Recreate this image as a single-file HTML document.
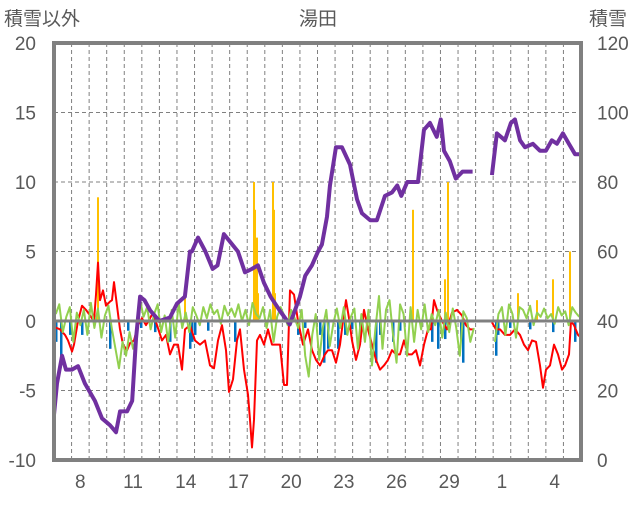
<!DOCTYPE html>
<html><head><meta charset="utf-8"><style>
body{margin:0;background:#fff;}
svg text{font-family:"Liberation Sans","Noto Sans CJK JP",sans-serif;fill:#595959;}
</style></head><body>
<svg id="c" width="636" height="501" xmlns="http://www.w3.org/2000/svg">
<text x="4" y="25" font-size="19">積雪以外</text>
<text x="318" y="25" font-size="19" text-anchor="middle">湯田</text>
<text x="589" y="25" font-size="19">積雪</text>
<g id="grid"></g>
<g id="marks"></g>
<g id="axes"></g>
</svg>
<script>
const dayLabels=["8","11","14","17","20","23","26","29","1","4"];
const dayLabelIdx=[1,4,7,10,13,16,19,22,25,28];
const leftTicks=[20,15,10,5,0,-5,-10];
const rightTicks=[120,100,80,60,40,20,0];
// snow depth (right axis), time in days from start
const snowT=[0,0.17,0.46,0.68,1.02,1.37,1.76,2.33,2.73,3.19,3.53,3.76,4.16,4.45,4.67,4.9,5.15,5.48,6.0,6.6,7.0,7.45,7.74,7.85,8.2,8.62,9.03,9.31,9.67,10.47,10.87,11.27,11.61,11.95,12.33,12.85,13.42,14.0,14.3,14.68,15.03,15.25,15.54,15.71,16.05,16.39,16.85,17.25,17.53,18.0,18.38,18.84,19.24,19.54,19.77,20.11,20.72,21.06,21.4,21.79,22.02,22.2,22.53,22.87,23.26,23.54,23.83,
 24.93,25.21,25.44,25.67,26.01,26.24,26.53,26.81,27.26,27.66,28.0,28.34,28.63,28.97,29.31,29.66,30.0];
const snowV=[13,22,30,26,26,27,22,17,12,10,8,14,14,17,35,47,46,43,40,41,45,47,60,60,64,60,55,56,65,60,54,55,56,51,47,43,39,47,53,56,60,62,70,79,90,90,85,75,71,69,69,76,77,79,76,80,80,95,97,93,98,89,86,81,83,83,83,
 82,94,93,92,97,98,92,90,91,89,89,92,91,94,91,88,88,88];
// red series (left axis)
const redX=[53,60,65,68,72,74,78,82,86,90,94,96,98,100,103,106,110,112,114,117,120,123,127,130,134,138,142,146,150,153,157,162,166,170,174,178,182,185,190,195,200,205,210,214,218,222,226,229,233,237,240,244,248,250,252,254,257,260,264,268,272,276,280,284,287,290,294,298,303,308,312,316,320,325,328,332,336,340,343,346,349,352,356,360,364,368,372,376,380,384,388,392,396,400,404,408,412,416,420,424,428,431,434,437,442,447,452,457,462,466,470,474];
const redV=[-0.4,-0.6,-1,-1.4,-2.2,-1.7,0,1.1,0.8,0.4,0,1.9,4.2,1.5,2.2,1.1,1.4,1.5,2.8,1.1,-0.6,-1.7,-2.1,-1.6,-1.4,-0.3,0.2,-0.3,0.2,0.6,-0.3,-1.4,-1,-2.4,-1.7,-1.7,-3.5,-0.6,-0.3,-1.4,-1.7,-1.4,-3.2,-3.4,-1.4,-0.3,-2.1,-5.1,-4.2,-1.4,-0.6,-3.5,-5.3,-7.1,-9.1,-7.1,-1.4,-1,-1.7,-0.6,-1.7,-1.7,-1.7,-4.6,-4.6,2.2,1.9,0,-1.7,-0.6,-2.1,-2.8,-3.2,-2.4,-2.1,-2.1,-3,-1.7,0,1.5,0.2,-1.4,-2.8,-1.7,0.8,-0.6,-1.7,-2.8,-3.5,-3.2,-2.8,-2.1,-2.4,-2.4,-1.4,-2.4,-2.4,-2.1,-3.2,-1.7,-0.6,-0.6,1.5,0.8,0,-0.6,0.6,0.8,0.4,-0.3,-0.6,-0.6];
const redX2=[492,496,500,505,510,515,520,524,528,532,536,540,543,546,550,554,558,562,565,569,571,574,578,581];
const redV2=[-0.1,-0.6,-0.6,-1,-1,-0.6,-1,-1.7,-2.1,-1.4,-1.5,-3.2,-4.8,-3.5,-3.2,-1.7,-2.4,-3.5,-3.2,-2.4,0,-0.3,-1,-1.2];
// green series, every 0.2 day, null = missing
const greenV=[0.5,1.2,-0.8,0.3,1.0,-1.5,0.6,-0.3,0.8,-1.0,
1.3,-0.5,0.9,-1.2,0.4,1.1,-0.6,-2.0,-3.4,-1.5,
-2.5,-0.8,-2.0,-1.0,1.5,0.3,1.0,-0.6,0.5,1.2,
-0.8,0.4,-1.5,0.8,-1.2,1.3,-0.5,0.6,-0.8,1.0,
0.4,-0.3,1.0,0.2,1.2,0.5,0.8,-0.2,1.1,0.4,
0.9,0.3,1.2,0.0,0.8,-0.3,1.3,0.5,0.2,1.0,
-0.5,0.8,-1.5,0.3,1.0,0.4,-0.3,0.8,0.2,-0.5,
0.8,-2.5,-4.0,-1.0,0.5,-2.8,-0.5,0.8,-1.8,-0.2,
0.9,-0.5,1.0,-1.0,0.3,0.9,-2.0,0.5,-1.5,0.8,
-3.2,-0.5,1.8,-2.0,0.8,1.5,-1.0,-3.0,1.2,0.5,
-2.5,1.0,-1.5,0.8,-0.6,1.2,-0.8,0.5,-0.3,0.8,
-1.2,0.6,-0.8,0.9,-0.5,-2.5,0.7,0.2,-1.5,-0.5,
null,null,null,null,null,-1.5,0.5,1.0,-1.0,1.2,
0.5,-1.2,1.0,0.8,0.2,1.1,-0.3,0.6,0.3,0.9,
0.2,0.5,-0.2,1.0,0.4,0.7,-0.3,1.0,0.6,0.3];
// blue bars (left axis)
const blueX=[56,61,70,82,110,128,141,155,170,190,192,195,208,235,298,305,320,324,328,338,345,352,360,376,380,393,400,432,438,445,461,463,496,498,510,530,553,575];
const blueV=[-1.5,-2.5,-1,-1,-2,-0.7,-0.5,-0.8,-1.5,-2,-1.5,-1,-0.7,-1.5,-1,-0.5,-1,-3,-2,-2,-1,-0.6,-1.5,-3,-1,-1.5,-0.7,-1.5,-2,-1.3,-1.4,-3,-2.5,-1,-0.5,-0.6,-0.8,-1.5];
// orange bars (left axis)
const orgX=[98,185,254,255,256,257,258,273,274,275,413,445,448,518,537,553,570];
const orgV=[8.9,2,10,8,2,6,2,10,8,2,8,3,10,2,1.5,3,5];

const L=54,R=581,T=43,B=460,ND=30;
const xd=d=>L+d*(R-L)/ND;
const yl=v=>T+(20-v)*(B-T)/30;
const yr=v=>B-v*(B-T)/120;
const NS="http://www.w3.org/2000/svg";
function mk(p,t,a){const e=document.createElementNS(NS,t);for(const k in a)e.setAttribute(k,a[k]);p.appendChild(e);return e;}
const grid=document.getElementById('grid'),marks=document.getElementById('marks'),axes=document.getElementById('axes');
for(let i=1;i<ND;i++){const l=mk(grid,'line',{x1:xd(i),x2:xd(i),y1:T,y2:B,stroke:'#808080','stroke-width':1,'stroke-dasharray':'4,3'});

}
leftTicks.forEach(v=>{if(v!==0&&v!==20&&v!==-10){const l=mk(grid,'line',{x1:L,x2:R,y1:yl(v),y2:yl(v),stroke:'#808080','stroke-width':1,'stroke-dasharray':'4,3'});

}});
// bars
blueX.forEach((x,i)=>{const r=mk(marks,'rect',{x:x-1,y:yl(0),width:2.5,height:yl(blueV[i])-yl(0),fill:'#0070c0'});

});
orgX.forEach((x,i)=>{const r=mk(marks,'rect',{x:x-1,y:yl(orgV[i]),width:2,height:yl(0)-yl(orgV[i]),fill:'#ffc000'});

});
function pl(pts,col,w,name){const p=mk(marks,'polyline',{points:pts.map(q=>q.join(',')).join(' '),fill:'none',stroke:col,'stroke-width':w,'stroke-linejoin':'round'});

}
pl(redX.map((x,i)=>[x,yl(redV[i])]),'#ff0000',2,'red-line');
pl(redX2.map((x,i)=>[x,yl(redV2[i])]),'#ff0000',2,'red-line-2');
let seg=[];const segs=[];
greenV.forEach((v,i)=>{if(v===null){if(seg.length)segs.push(seg);seg=[];}else seg.push([xd(i*0.2+0.1),yl(v)]);});
if(seg.length)segs.push(seg);
segs.forEach(s=>pl(s,'#92d050',2,'green-line'));
const s1=[],s2=[];snowT.forEach((t,i)=>{(t<24.5?s1:s2).push([xd(t),yr(snowV[i])]);});
pl(s1,'#7030a0',4,'snow-depth-line');pl(s2,'#7030a0',4,'snow-depth-line-2');
// axes
const z=mk(axes,'line',{x1:L,x2:R,y1:yl(0),y2:yl(0),stroke:'#808080','stroke-width':3});


const fr=mk(axes,'rect',{x:L,y:T,width:R-L,height:B-T,fill:'none',stroke:'#808080','stroke-width':4});


leftTicks.forEach(v=>{const t=mk(axes,'text',{x:36,y:yl(v)+7,'font-size':19,'text-anchor':'end'});t.textContent=v;

});
rightTicks.forEach(v=>{const t=mk(axes,'text',{x:597,y:yr(v)+7,'font-size':19});t.textContent=v;

});
dayLabels.forEach((s,i)=>{const t=mk(axes,'text',{x:xd(dayLabelIdx[i]+0.5),y:488,'font-size':19,'text-anchor':'middle'});t.textContent=s;

});
</script>
</body></html>
